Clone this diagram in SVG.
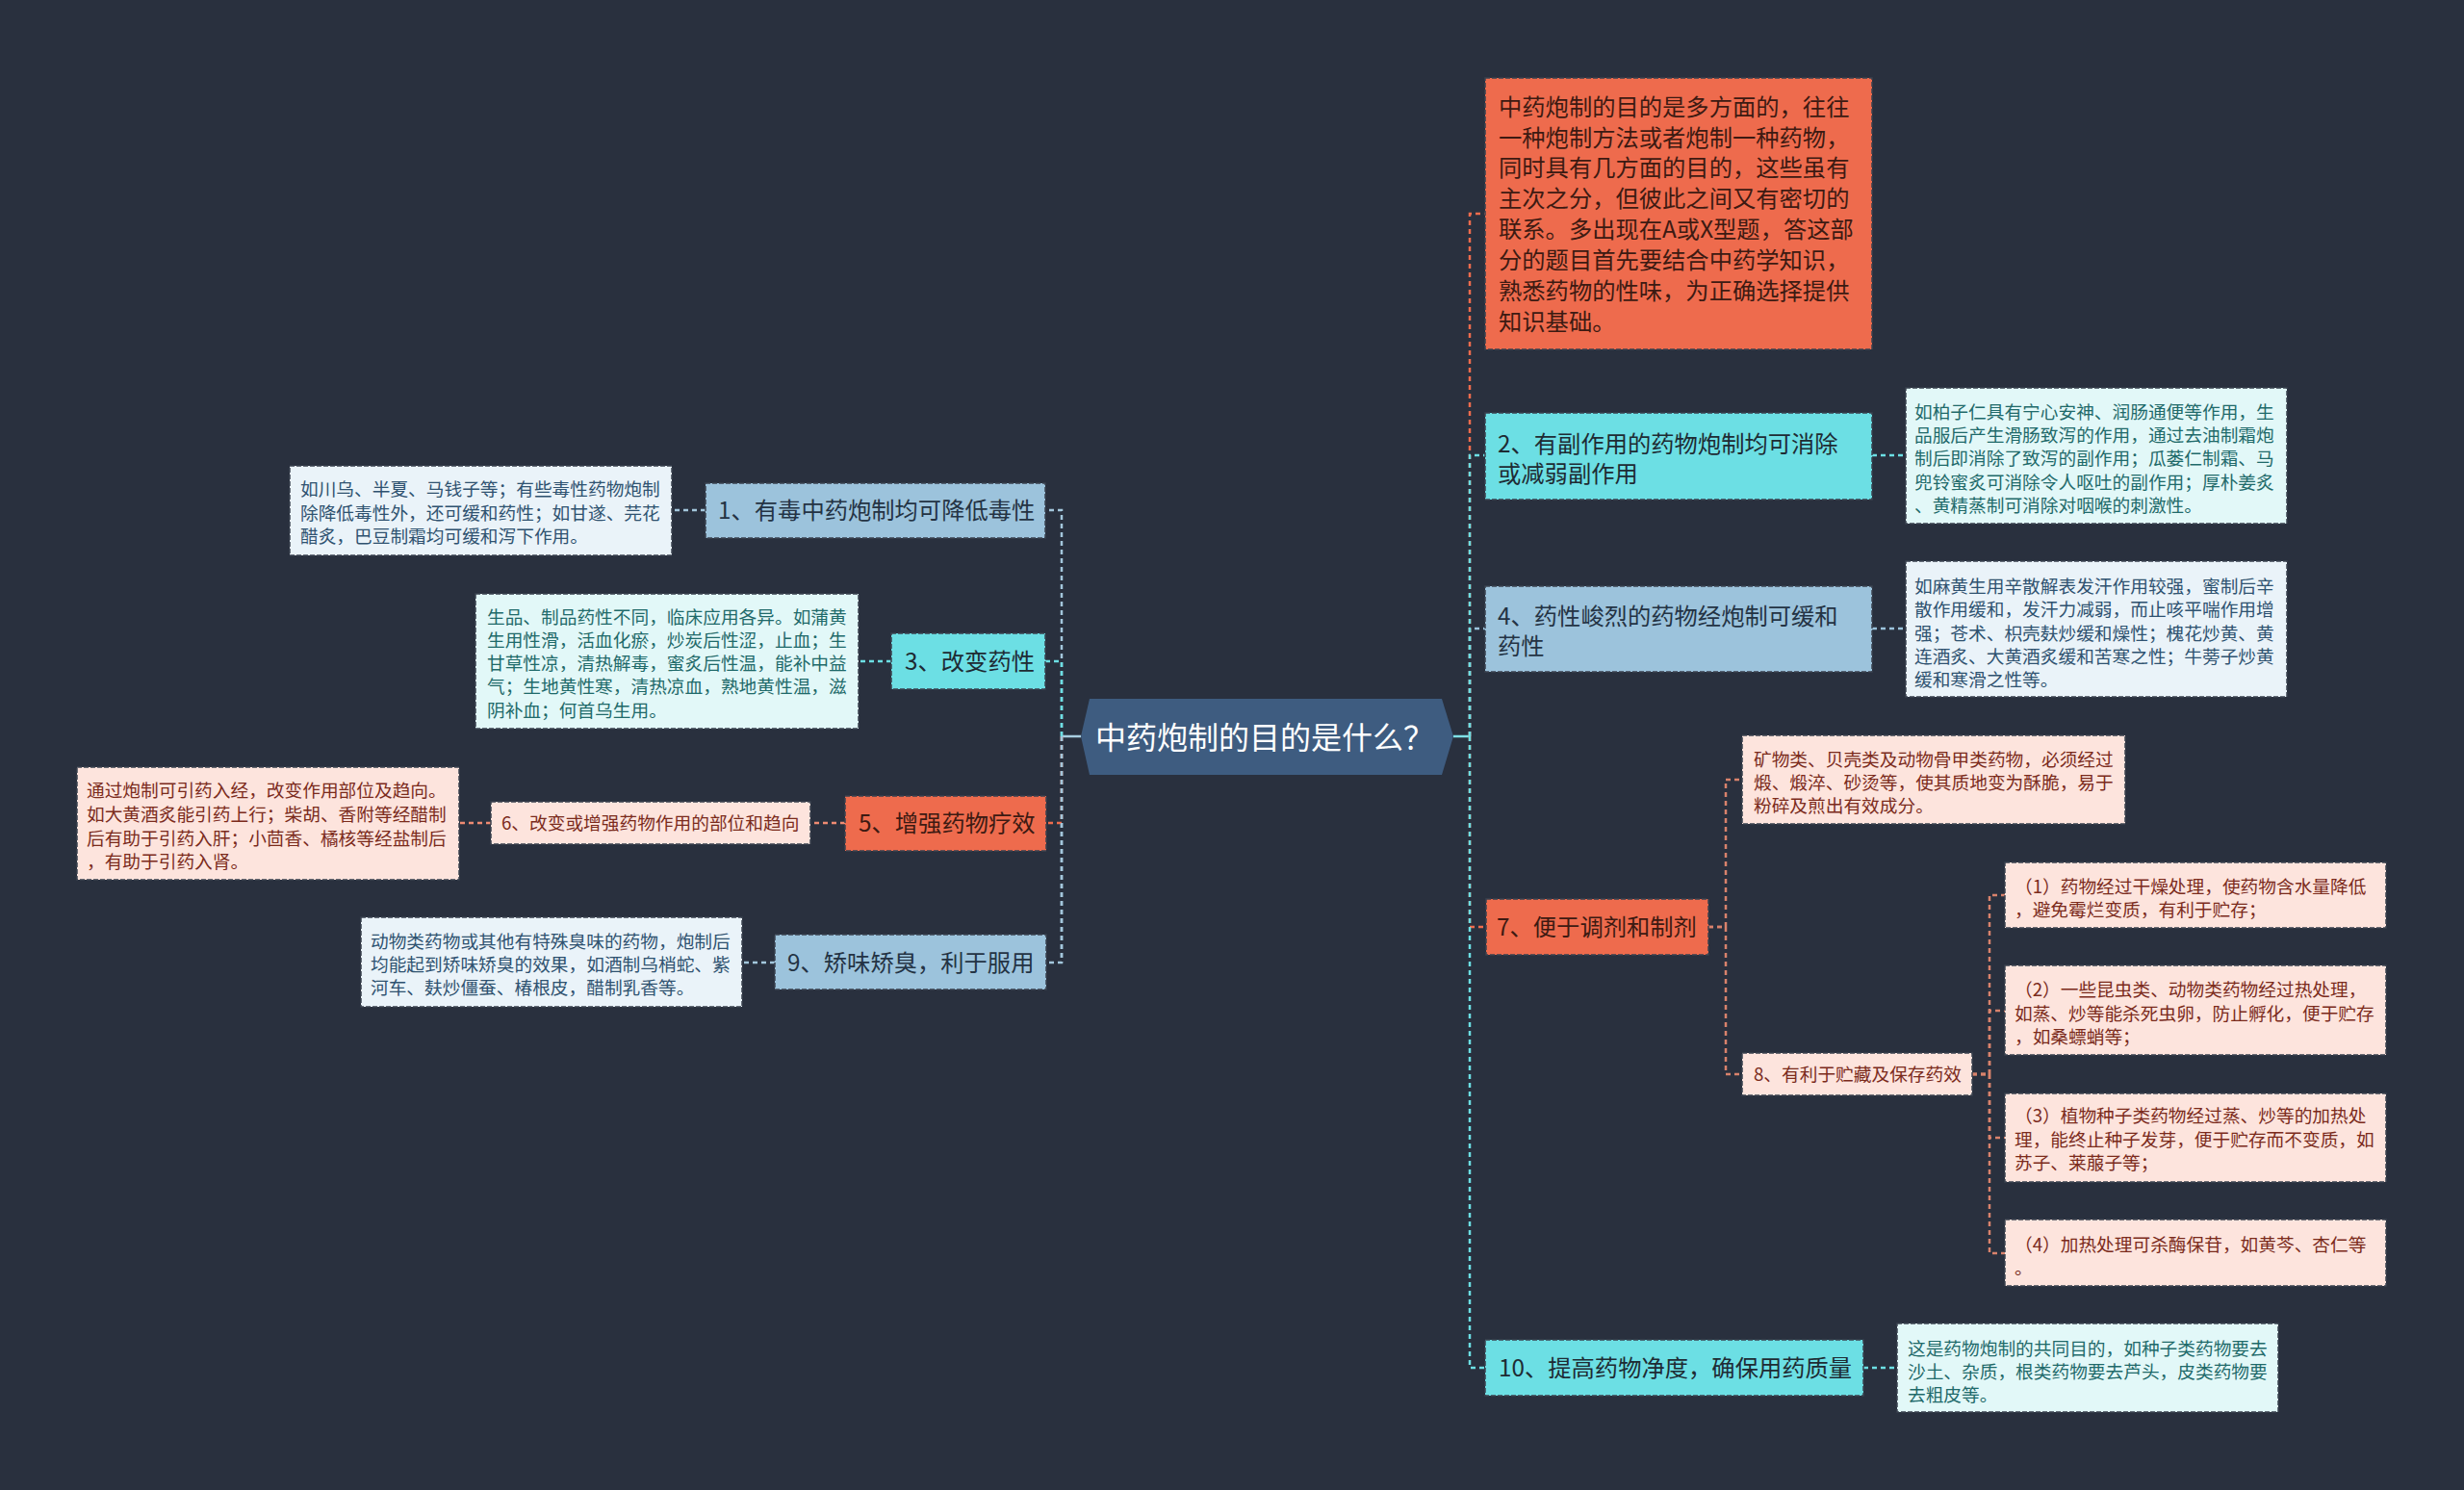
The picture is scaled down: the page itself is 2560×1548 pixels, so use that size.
<svg xmlns="http://www.w3.org/2000/svg" width="2560" height="1548" viewBox="0 0 2560 1548">
<style>
text{font-family:"Noto Sans CJK SC","Noto Sans",sans-serif;dominant-baseline:central;transform:translate(0px,-1.5px)}
.box{stroke:#3a414f;stroke-width:1.5;stroke-dasharray:5 2}
.l1{font-size:24.3px}
.d{font-size:18.7px}
.c{fill:none;stroke-width:2.5;stroke-dasharray:5 4}
.or{fill:#ee6b4d}.cy{fill:#6cdfe4}.bl{fill:#9cc3dc}
.dpk{fill:#fde4dd}.dcy{fill:#e2f8f8}.dbl{fill:#eaf3f9}
.tor{fill:#3d1a12}.tcy{fill:#1e2b33}.tbl{fill:#243344}
.tpk{fill:#7b2b1c}.tdcy{fill:#1f6a6a}.tdbl{fill:#2f5270}
</style>
<rect width="2560" height="1548" fill="#29303e"/>
<g id="connectors">
<line x1="1103" y1="765" x2="1123" y2="765" stroke="#a8cde0" stroke-width="2.5"/>
<line x1="1510" y1="765" x2="1527" y2="765" stroke="#7fe0e6" stroke-width="2.5"/>
<path class="c" stroke="#a3c6dc" d="M1103 765 V530 H1086"/>
<path class="c" stroke="#a3c6dc" d="M1103 765 V1000 H1087"/>
<path class="c" stroke="#ee6b4d" d="M1103 765 V855 H1087"/>
<path class="c" stroke="#a3c6dc" d="M1103 765 V1000"/>
<path class="c" stroke="#6cdfe4" d="M1103 765 V687 H1086"/>
<path class="c" stroke="#a3c6dc" d="M733 530 H698"/>
<path class="c" stroke="#6cdfe4" d="M926 687 H892"/>
<path class="c" stroke="#ee8a72" d="M878 855 H842"/>
<path class="c" stroke="#ee8a72" d="M510 855 H477"/>
<path class="c" stroke="#a3c6dc" d="M805 1000 H771"/>
<path class="c" stroke="#ee6b4d" d="M1527 765 V222 H1543"/>
<path class="c" stroke="#9cc3dc" d="M1527 765 V653 H1543"/>
<path class="c" stroke="#6cdfe4" d="M1527 765 V473 H1543"/>
<path class="c" stroke="#ee6b4d" d="M1527 765 V963 H1544"/>
<path class="c" stroke="#6cdfe4" d="M1527 765 V1421 H1543"/>
<path class="c" stroke="#6cdfe4" d="M1945 473 H1980"/>
<path class="c" stroke="#9cc3dc" d="M1945 653 H1980"/>
<path class="c" stroke="#6cdfe4" d="M1936 1421 H1971"/>
<path class="c" stroke="#d9826c" stroke-width="2" d="M1775 963 H1793 V810 H1810"/>
<path class="c" stroke="#d9826c" stroke-width="2" d="M1775 963 H1793 V1116 H1810"/>
<path class="c" stroke="#d9826c" stroke-width="2" d="M2049 1116 H2067 V930 H2083"/>
<path class="c" stroke="#d9826c" stroke-width="2" d="M2049 1116 H2067 V1050 H2083"/>
<path class="c" stroke="#d9826c" stroke-width="2" d="M2049 1116 H2067 V1182 H2083"/>
<path class="c" stroke="#d9826c" stroke-width="2" d="M2049 1116 H2067 V1302 H2083"/>
</g>
<g id="root">
<polygon points="1123,765 1132,726 1498,726 1510,765 1498,805 1132,805" fill="#3e5c80"/>
<text x="1138" y="765" font-size="32" fill="#ffffff">中药炮制的目的是什么？</text>
</g>
<g id="n-intro">
<rect class="box or" x="1543" y="81" width="402" height="282"/>
<text class="l1 tor" x="1557"><tspan x="1557" y="110">中药炮制的目的是多方面的，往往</tspan><tspan x="1557" y="142">一种炮制方法或者炮制一种药物，</tspan><tspan x="1557" y="173">同时具有几方面的目的，这些虽有</tspan><tspan x="1557" y="205">主次之分，但彼此之间又有密切的</tspan><tspan x="1557" y="237">联系。多出现在A或X型题，答这部</tspan><tspan x="1557" y="269">分的题目首先要结合中药学知识，</tspan><tspan x="1557" y="301">熟悉药物的性味，为正确选择提供</tspan><tspan x="1557" y="333">知识基础。</tspan></text>
</g>
<g id="n2">
<rect class="box cy" x="1543" y="429" width="402" height="90"/>
<text class="l1 tcy"><tspan x="1556" y="460">2、有副作用的药物炮制均可消除</tspan><tspan x="1556" y="491">或减弱副作用</tspan></text>
</g>
<g id="n2d">
<rect class="box dcy" x="1980" y="403" width="396" height="141"/>
<text class="d tdcy"><tspan x="1989" y="427">如柏子仁具有宁心安神、润肠通便等作用，生</tspan><tspan x="1989" y="451">品服后产生滑肠致泻的作用，通过去油制霜炮</tspan><tspan x="1989" y="475">制后即消除了致泻的副作用；瓜蒌仁制霜、马</tspan><tspan x="1989" y="500">兜铃蜜炙可消除令人呕吐的副作用；厚朴姜炙</tspan><tspan x="1989" y="524">、黄精蒸制可消除对咽喉的刺激性。</tspan></text>
</g>
<g id="n4">
<rect class="box bl" x="1543" y="609" width="402" height="89"/>
<text class="l1 tbl"><tspan x="1556" y="639">4、药性峻烈的药物经炮制可缓和</tspan><tspan x="1556" y="670">药性</tspan></text>
</g>
<g id="n4d">
<rect class="box dbl" x="1980" y="583" width="396" height="141"/>
<text class="d tdbl"><tspan x="1989" y="608">如麻黄生用辛散解表发汗作用较强，蜜制后辛</tspan><tspan x="1989" y="632">散作用缓和，发汗力减弱，而止咳平喘作用增</tspan><tspan x="1989" y="657">强；苍术、枳壳麸炒缓和燥性；槐花炒黄、黄</tspan><tspan x="1989" y="681">连酒炙、大黄酒炙缓和苦寒之性；牛蒡子炒黄</tspan><tspan x="1989" y="705">缓和寒滑之性等。</tspan></text>
</g>
<g id="n7">
<rect class="box or" x="1544" y="934" width="231" height="58"/>
<text class="l1 tor" x="1555" y="963">7、便于调剂和制剂</text>
</g>
<g id="n7d">
<rect class="box dpk" x="1810" y="764" width="398" height="92"/>
<text class="d tpk"><tspan x="1822" y="788">矿物类、贝壳类及动物骨甲类药物，必须经过</tspan><tspan x="1822" y="812">煅、煅淬、砂烫等，使其质地变为酥脆，易于</tspan><tspan x="1822" y="836">粉碎及煎出有效成分。</tspan></text>
</g>
<g id="n8">
<rect class="box dpk" x="1810" y="1094" width="239" height="44"/>
<text class="d tpk" x="1822" y="1116">8、有利于贮藏及保存药效</text>
</g>
<g id="n8a">
<rect class="box dpk" x="2083" y="896" width="396" height="68"/>
<text class="d tpk"><tspan x="2093" y="920">（1）药物经过干燥处理，使药物含水量降低</tspan><tspan x="2093" y="944">，避免霉烂变质，有利于贮存；</tspan></text>
</g>
<g id="n8b">
<rect class="box dpk" x="2083" y="1003" width="396" height="93"/>
<text class="d tpk"><tspan x="2093" y="1027">（2）一些昆虫类、动物类药物经过热处理，</tspan><tspan x="2093" y="1052">如蒸、炒等能杀死虫卵，防止孵化，便于贮存</tspan><tspan x="2093" y="1076">，如桑螵蛸等；</tspan></text>
</g>
<g id="n8c">
<rect class="box dpk" x="2083" y="1136" width="396" height="92"/>
<text class="d tpk"><tspan x="2093" y="1158">（3）植物种子类药物经过蒸、炒等的加热处</tspan><tspan x="2093" y="1183">理，能终止种子发芽，便于贮存而不变质，如</tspan><tspan x="2093" y="1207">苏子、莱菔子等；</tspan></text>
</g>
<g id="n8d">
<rect class="box dpk" x="2083" y="1267" width="396" height="69"/>
<text class="d tpk"><tspan x="2093" y="1292">（4）加热处理可杀酶保苷，如黄芩、杏仁等</tspan><tspan x="2093" y="1316">。</tspan></text>
</g>
<g id="n10">
<rect class="box cy" x="1543" y="1392" width="393" height="58"/>
<text class="l1 tcy" x="1557" y="1421">10、提高药物净度，确保用药质量</text>
</g>
<g id="n10d">
<rect class="box dcy" x="1971" y="1375" width="396" height="92"/>
<text class="d tdcy"><tspan x="1982" y="1400">这是药物炮制的共同目的，如种子类药物要去</tspan><tspan x="1982" y="1424">沙土、杂质，根类药物要去芦头，皮类药物要</tspan><tspan x="1982" y="1448">去粗皮等。</tspan></text>
</g>
<g id="n1">
<rect class="box bl" x="733" y="502" width="353" height="57"/>
<text class="l1 tbl" x="746" y="530">1、有毒中药炮制均可降低毒性</text>
</g>
<g id="n1d">
<rect class="box dbl" x="301" y="484" width="397" height="93"/>
<text class="d tdbl"><tspan x="312" y="507">如川乌、半夏、马钱子等；有些毒性药物炮制</tspan><tspan x="312" y="532">除降低毒性外，还可缓和药性；如甘遂、芫花</tspan><tspan x="312" y="556">醋炙，巴豆制霜均可缓和泻下作用。</tspan></text>
</g>
<g id="n3">
<rect class="box cy" x="926" y="658" width="160" height="58"/>
<text class="l1 tcy" x="940" y="687">3、改变药性</text>
</g>
<g id="n3d">
<rect class="box dcy" x="494" y="617" width="398" height="140"/>
<text class="d tdcy"><tspan x="506" y="640">生品、制品药性不同，临床应用各异。如蒲黄</tspan><tspan x="506" y="664">生用性滑，活血化瘀，炒炭后性涩，止血；生</tspan><tspan x="506" y="688">甘草性凉，清热解毒，蜜炙后性温，能补中益</tspan><tspan x="506" y="712">气；生地黄性寒，清热凉血，熟地黄性温，滋</tspan><tspan x="506" y="737">阴补血；何首乌生用。</tspan></text>
</g>
<g id="n5">
<rect class="box or" x="878" y="827" width="209" height="57"/>
<text class="l1 tor" x="892" y="855">5、增强药物疗效</text>
</g>
<g id="n6">
<rect class="box dpk" x="510" y="833" width="332" height="44"/>
<text class="d tpk" x="521" y="855">6、改变或增强药物作用的部位和趋向</text>
</g>
<g id="n6d">
<rect class="box dpk" x="80" y="797" width="397" height="117"/>
<text class="d tpk"><tspan x="90" y="820">通过炮制可引药入经，改变作用部位及趋向。</tspan><tspan x="90" y="845">如大黄酒炙能引药上行；柴胡、香附等经醋制</tspan><tspan x="90" y="870">后有助于引药入肝；小茴香、橘核等经盐制后</tspan><tspan x="90" y="894">，有助于引药入肾。</tspan></text>
</g>
<g id="n9">
<rect class="box bl" x="805" y="971" width="282" height="57"/>
<text class="l1 tbl" x="818" y="1000">9、矫味矫臭，利于服用</text>
</g>
<g id="n9d">
<rect class="box dbl" x="375" y="953" width="396" height="93"/>
<text class="d tdbl"><tspan x="385" y="977">动物类药物或其他有特殊臭味的药物，炮制后</tspan><tspan x="385" y="1001">均能起到矫味矫臭的效果，如酒制乌梢蛇、紫</tspan><tspan x="385" y="1025">河车、麸炒僵蚕、椿根皮，醋制乳香等。</tspan></text>
</g>
</svg>
